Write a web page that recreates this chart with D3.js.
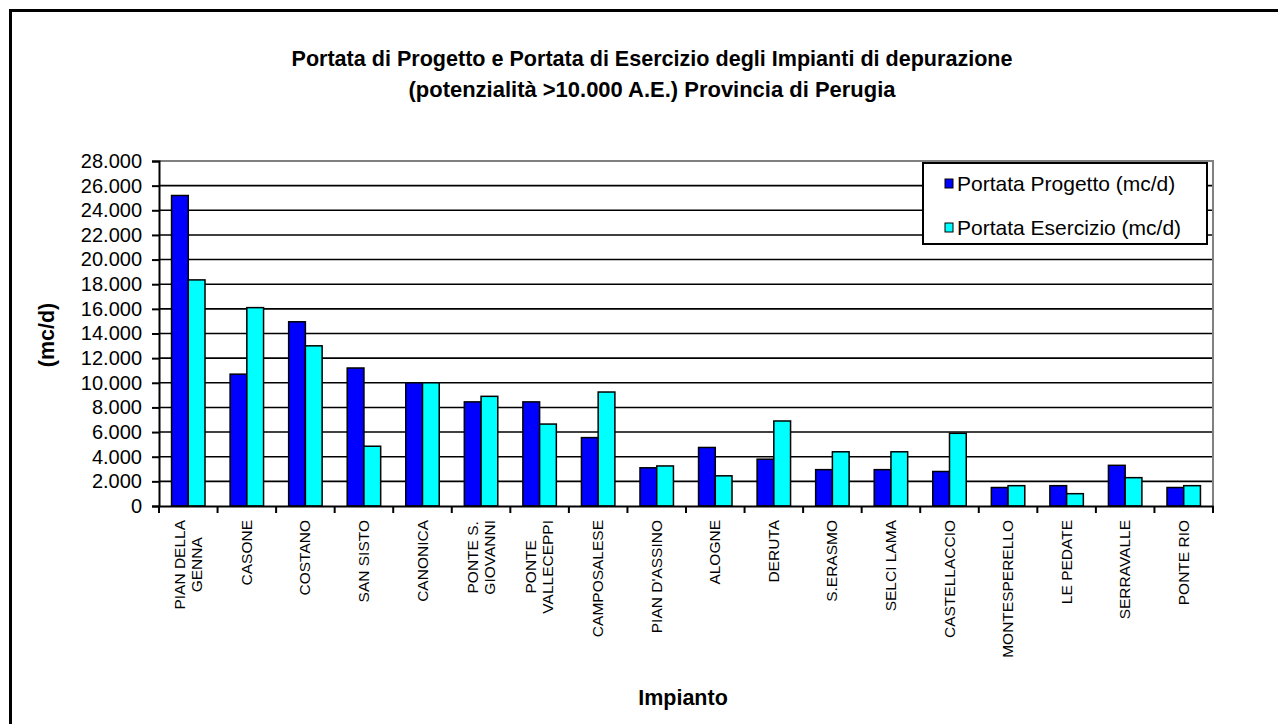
<!DOCTYPE html>
<html>
<head>
<meta charset="utf-8">
<script src="https://cdn.jsdelivr.net/npm/d3@7"></script>
<style>
  html, body { margin: 0; padding: 0; background: #fff; }
  svg { display: block; font-family: "Liberation Sans", Arial, sans-serif; }
</style>
</head>
<body>
<svg id="chart" width="1278" height="724"></svg>
<script>
const titleLines = [
  "Portata di Progetto e Portata di Esercizio degli Impianti di depurazione",
  "(potenzialità >10.000 A.E.) Provincia di Perugia"
];
const categories = [
  "PIAN DELLA|GENNA", "CASONE", "COSTANO", "SAN SISTO", "CANONICA",
  "PONTE S.|GIOVANNI", "PONTE|VALLECEPPI", "CAMPOSALESE", "PIAN D'ASSINO",
  "ALOGNE", "DERUTA", "S.ERASMO", "SELCI LAMA", "CASTELLACCIO",
  "MONTESPERELLO", "LE PEDATE", "SERRAVALLE", "PONTE RIO"
];
const seriesNames = ["Portata Progetto (mc/d)", "Portata Esercizio (mc/d)"];
const progetto = [25200, 10700, 14950, 11200, 10000, 8450, 8450, 5550, 3100,
                  4750, 3800, 2950, 2950, 2800, 1500, 1650, 3300, 1500];
const esercizio = [18350, 16100, 13000, 4850, 10000, 8900, 6650, 9250, 3250,
                   2450, 6900, 4400, 4400, 5900, 1650, 1000, 2300, 1650];
const yTicks = [0, 2000, 4000, 6000, 8000, 10000, 12000, 14000, 16000, 18000,
                20000, 22000, 24000, 26000, 28000];
const yTitle = "(mc/d)";
const xTitle = "Impianto";
const colors = ["#0000ff", "#00ffff"];

const svg = d3.select("#chart");
const fmt = d3.formatLocale({decimal: ",", thousands: ".", grouping: [3], currency: ["", ""]}).format(",");

// outer frame
svg.append("rect").attr("x", 10.5).attr("y", 10.5).attr("width", 1400).attr("height", 900)
  .attr("fill", "none").attr("stroke", "#000").attr("stroke-width", 3);

const plot = {left: 159, right: 1213, top: 161, bottom: 506};
const x = d3.scaleBand().domain(categories).range([plot.left, plot.right]).padding(0);
const y = d3.scaleLinear().domain([0, 28000]).range([plot.bottom, plot.top]);

// title
svg.append("g").selectAll("text").data(titleLines).join("text")
  .attr("x", 652).attr("y", (d, i) => 66 + i * 31)
  .attr("text-anchor", "middle").attr("font-weight", "bold").attr("font-size", "21.5px")
  .attr("textLength", (d, i) => i === 0 ? 721 : 487).attr("lengthAdjust", "spacingAndGlyphs")
  .text(d => d);

// gridlines
svg.append("g").selectAll("line").data(yTicks.filter(t => t > 0 && t < 28000)).join("line")
  .attr("x1", plot.left).attr("x2", plot.right)
  .attr("y1", d => y(d)).attr("y2", d => y(d))
  .attr("stroke", "#000").attr("stroke-width", 1.6);

// plot area border (top & right grey)
svg.append("path")
  .attr("d", `M${plot.left},${plot.top}H${plot.right}V${plot.bottom}`)
  .attr("fill", "none").attr("stroke", "#808080").attr("stroke-width", 2);

// bars
const bw = x.bandwidth() / 3.5;
const series = [progetto, esercizio];
series.forEach((vals, si) => {
  svg.append("g").selectAll("rect").data(vals).join("rect")
    .attr("x", (d, i) => x(categories[i]) + 0.75 * bw + si * bw)
    .attr("y", d => y(d))
    .attr("width", bw)
    .attr("height", d => y(0) - y(d))
    .attr("fill", colors[si]).attr("stroke", "#000").attr("stroke-width", 1.5);
});

// y axis
const yAxis = d3.axisLeft(y).tickValues(yTicks).tickFormat(d => fmt(d)).tickSizeOuter(0).tickSize(7).tickPadding(10);
const ya = svg.append("g").attr("transform", `translate(${plot.left},0)`).call(yAxis);
ya.select(".domain").attr("stroke", "#000").attr("stroke-width", 2);
ya.selectAll(".tick line").attr("stroke", "#000").attr("stroke-width", 2);
ya.selectAll(".tick text").attr("font-size", "20px").attr("fill", "#000")
  .attr("font-family", "Liberation Sans, Arial, sans-serif");

// x axis
const xAxis = d3.axisBottom(x).tickSize(0).tickFormat("");
const xa = svg.append("g").attr("transform", `translate(0,${plot.bottom})`).call(xAxis);
xa.select(".domain").attr("stroke", "#000").attr("stroke-width", 2);
xa.selectAll(".tick").remove();
const boundaries = categories.map(c => x(c)).concat([plot.right]);
svg.append("g").selectAll("line").data(boundaries).join("line")
  .attr("x1", d => d).attr("x2", d => d).attr("y1", plot.bottom).attr("y2", plot.bottom + 7)
  .attr("stroke", "#000").attr("stroke-width", 2);

// x labels (rotated, multi-line centered)
const labelTop = 520;
const lineH = 17;
categories.forEach(c => {
  const lines = c.split("|");
  const g = svg.append("g");
  const texts = lines.map(l => g.append("text").attr("font-size", "15.5px").text(l));
  const maxLen = d3.max(texts, t => t.node().getComputedTextLength());
  const cx = x(c) + x.bandwidth() / 2;
  const n = lines.length;
  texts.forEach((t, i) => {
    const lx = cx + (i - (n - 1) / 2) * lineH + 5;
    const ly = labelTop + maxLen / 2;
    t.attr("text-anchor", "middle")
     .attr("transform", `translate(${lx},${ly}) rotate(-90)`);
  });
});

// axis titles
svg.append("text").attr("x", 683).attr("y", 705).attr("text-anchor", "middle")
  .attr("font-weight", "bold").attr("font-size", "21.5px").text(xTitle);
svg.append("text").attr("transform", "translate(54,335) rotate(-90)").attr("text-anchor", "middle")
  .attr("font-weight", "bold").attr("font-size", "21.5px").text(yTitle);

// legend
const lg = svg.append("g");
lg.append("rect").attr("x", 923).attr("y", 163).attr("width", 284).attr("height", 81)
  .attr("fill", "#fff").attr("stroke", "#000").attr("stroke-width", 2);
seriesNames.forEach((s, i) => {
  const yy = 184 + i * 44;
  lg.append("rect").attr("x", 945).attr("y", yy - 5).attr("width", 8).attr("height", 9)
    .attr("fill", colors[i]).attr("stroke", "#000").attr("stroke-width", 1);
  lg.append("text").attr("x", 957).attr("y", yy + 7).attr("font-size", "21px").text(s);
});
</script>
</body>
</html>
